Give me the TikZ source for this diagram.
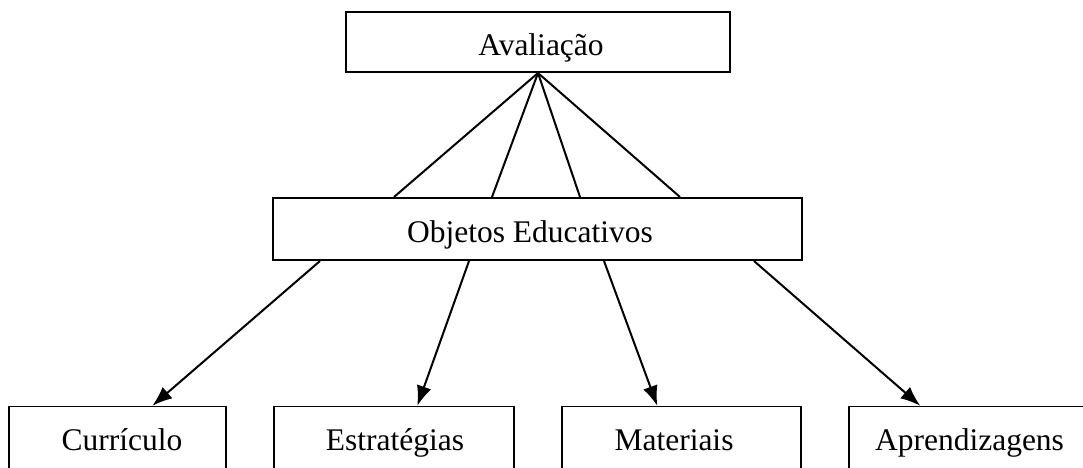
\documentclass[tikz,border=0pt]{standalone}
\usepackage{fontspec}
\setmainfont{Liberation Serif}
\usetikzlibrary{arrows.meta}
\begin{document}
\begin{tikzpicture}[x=1pt,y=-1pt,
  boxtext/.style={inner sep=0pt, text height=30pt, text depth=4pt,
    font=\fontsize{31.5}{37}\selectfont},
  topbox/.style={boxtext, draw=black, line width=2pt, minimum height=60pt},
  midbox/.style={boxtext, draw=black, line width=2pt, minimum height=62pt},
  leafbox/.style={boxtext, draw=black, line width=1.4pt, minimum height=62pt},
  link/.style={line width=2pt},
  arrowlink/.style={line width=2pt, -{Latex[length=20pt,width=15pt]}}
]
\clip (0,0) rectangle (1083,467);
\fill[white] (0,0) rectangle (1083,467);
\node[topbox, minimum width=384pt] (aval) at (538,42) {\hspace*{6pt}Avaliação};
\node[midbox, minimum width=529pt] (obj) at (537.5,229) {\hspace*{-15pt}Objetos Educativos};
\node[leafbox, minimum width=217pt] (cur) at (117.5,437.5) {\hspace*{9pt}Currículo};
\node[leafbox, minimum width=240pt] (est) at (394,437.5) {\hspace*{2pt}Estratégias};
\node[leafbox, minimum width=239pt] (mat) at (681.5,437.5) {\hspace*{-15pt}Materiais};
\node[leafbox, minimum width=241pt] (apr) at (969.5,437.5) {Aprendizagens};
\draw[link] (aval.south) -- ([xshift=122pt]obj.north west);
\draw[link] (aval.south) -- ([xshift=220pt]obj.north west);
\draw[link] (aval.south) -- ([xshift=308pt]obj.north west);
\draw[link] (aval.south) -- ([xshift=408pt]obj.north west);
\draw[arrowlink] ([xshift=48pt]obj.south west) -- ([xshift=144pt]cur.north west);
\draw[arrowlink] ([xshift=197pt]obj.south west) -- ([xshift=144pt]est.north west);
\draw[arrowlink] ([xshift=332pt]obj.south west) -- ([xshift=96pt]mat.north west);
\draw[arrowlink] ([xshift=482pt]obj.south west) -- ([xshift=72pt]apr.north west);
\end{tikzpicture}
\end{document}
